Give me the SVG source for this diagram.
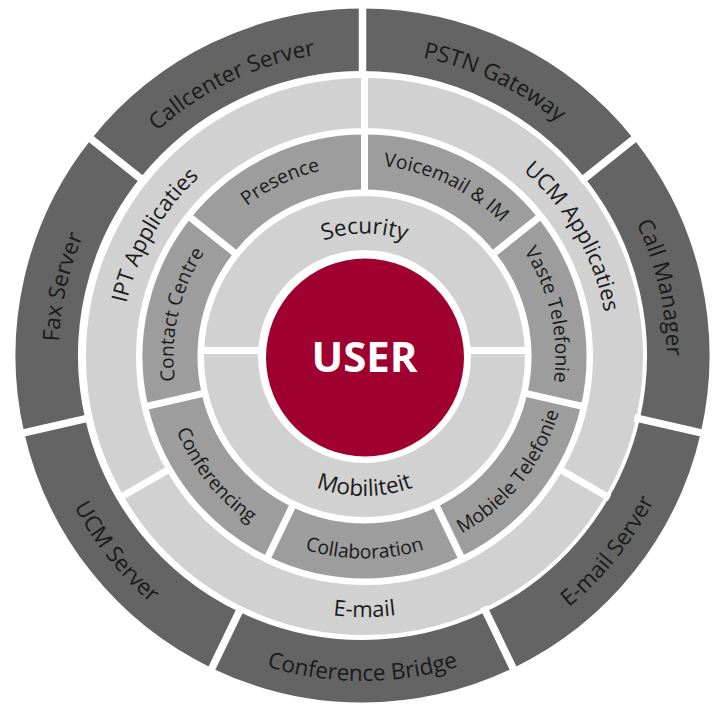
<svg xmlns="http://www.w3.org/2000/svg" xmlns:xlink="http://www.w3.org/1999/xlink" width="717" height="704" viewBox="0 0 717 704">
  <style>
    .o  { fill: none; stroke: #646464; stroke-width: 62.5; }
    .r2 { fill: none; stroke: #d0d1d0; stroke-width: 50; }
    .r3 { fill: none; stroke: #9d9d9d; stroke-width: 55; }
    .r4 { fill: none; stroke: #d0d1d0; stroke-width: 54; }
    .lbl { font-family: "Open Sans", "Noto Sans", "DejaVu Sans", sans-serif; fill: #1a1a1a; text-anchor: middle; }
    .f-o  { font-size: 22.5px; }
    .f-r2 { font-size: 22px; }
    .f-r3 { font-size: 19.3px; }
    .f-r4 { font-size: 22.5px; }
    .div line { stroke: #ffffff; stroke-width: 7; }
    .div .wide { stroke-width: 7.5; }
  </style>
  <defs>
    <!-- ring segments, centred on the top of the circle, drawn as thick arcs -->
    <path id="seg-o"  d="M -137.00 -284.48 A 315.75 315.75 0 0 1 137.00 -284.48"/>
    <path id="seg-r2" d="M -219.54 -126.75 A 253.5 253.5 0 0 1 219.54 -126.75"/>
    <path id="seg-r3" d="M -84.39 -175.24 A 194.5 194.5 0 0 1 84.39 -175.24"/>
    <path id="seg-r4" d="M -133.5 0 A 133.5 133.5 0 0 1 133.5 0"/>
    <!-- label baselines: cw = tops outward, ccw = tops inward -->
    <path id="o-cw"   d="M -299.38 -52.79 A 304 304 0 0 1 299.38 -52.79"/>
    <path id="o-ccw"  d="M 320.55 -56.52 A 325.5 325.5 0 0 0 -320.55 -56.52"/>
    <path id="r2-cw"  d="M -240.29 -42.37 A 244 244 0 0 1 240.29 -42.37"/>
    <path id="r2-ccw" d="M 256.54 -45.24 A 260.5 260.5 0 0 0 -256.54 -45.24"/>
    <path id="r3-cw"  d="M -188.10 -33.17 A 191 191 0 0 1 188.10 -33.17"/>
    <path id="r3-ccw" d="M 198.93 -35.08 A 202 202 0 0 0 -198.93 -35.08"/>
    <path id="r4-cw"  d="M -121.13 -21.36 A 123 123 0 0 1 121.13 -21.36"/>
    <path id="r4-ccw" d="M 137.38 -24.22 A 139.5 139.5 0 0 0 -137.38 -24.22"/>
  </defs>

  <rect width="717" height="704" fill="#ffffff"/>

  <!-- outer ring: servers -->
  <g id="pstn-gateway" transform="translate(362.5 355.5) rotate(25.714)">
    <use href="#seg-o" class="o"/>
    <text class="lbl f-o"><textPath href="#o-cw" startOffset="50%">PSTN Gateway</textPath></text>
  </g>
  <g id="call-manager" transform="translate(362.5 355.5) rotate(77.143)">
    <use href="#seg-o" class="o"/>
    <text class="lbl f-o"><textPath href="#o-cw" startOffset="50%">Call Manager</textPath></text>
  </g>
  <g id="email-server" transform="translate(362.5 355.5) rotate(128.571)">
    <use href="#seg-o" class="o"/>
    <text class="lbl f-o"><textPath href="#o-ccw" startOffset="50%">E-mail Server</textPath></text>
  </g>
  <g id="conference-bridge" transform="translate(362.5 355.5) rotate(180)">
    <use href="#seg-o" class="o"/>
    <text class="lbl f-o"><textPath href="#o-ccw" startOffset="50%">Conference Bridge</textPath></text>
  </g>
  <g id="ucm-server" transform="translate(362.5 355.5) rotate(231.429)">
    <use href="#seg-o" class="o"/>
    <text class="lbl f-o"><textPath href="#o-ccw" startOffset="50%">UCM Server</textPath></text>
  </g>
  <g id="fax-server" transform="translate(362.5 355.5) rotate(282.857)">
    <use href="#seg-o" class="o"/>
    <text class="lbl f-o"><textPath href="#o-cw" startOffset="50%">Fax Server</textPath></text>
  </g>
  <g id="callcenter-server" transform="translate(362.5 355.5) rotate(334.286)">
    <use href="#seg-o" class="o"/>
    <text class="lbl f-o"><textPath href="#o-cw" startOffset="50%">Callcenter Server</textPath></text>
  </g>

  <!-- second ring: application groups -->
  <g id="ucm-applicaties" transform="translate(364.5 356.5) rotate(60)">
    <use href="#seg-r2" class="r2"/>
    <text class="lbl f-r2"><textPath href="#r2-cw" startOffset="50%">UCM Applicaties</textPath></text>
  </g>
  <g id="email" transform="translate(364.5 356.5) rotate(180)">
    <use href="#seg-r2" class="r2"/>
    <text class="lbl f-r2"><textPath href="#r2-ccw" startOffset="50%">E-mail</textPath></text>
  </g>
  <g id="ipt-applicaties" transform="translate(364.5 356.5) rotate(300)">
    <use href="#seg-r2" class="r2"/>
    <text class="lbl f-r2"><textPath href="#r2-cw" startOffset="50%">IPT Applicaties</textPath></text>
  </g>

  <!-- third ring: services -->
  <g id="voicemail-im" transform="translate(364.5 356.5) rotate(25.714)">
    <use href="#seg-r3" class="r3"/>
    <text class="lbl f-r3"><textPath href="#r3-cw" startOffset="50%">Voicemail &amp; IM</textPath></text>
  </g>
  <g id="vaste-telefonie" transform="translate(364.5 356.5) rotate(77.143)">
    <use href="#seg-r3" class="r3"/>
    <text class="lbl f-r3"><textPath href="#r3-cw" startOffset="50%">Vaste Telefonie</textPath></text>
  </g>
  <g id="mobiele-telefonie" transform="translate(364.5 356.5) rotate(128.571)">
    <use href="#seg-r3" class="r3"/>
    <text class="lbl f-r3"><textPath href="#r3-ccw" startOffset="50%">Mobiele Telefonie</textPath></text>
  </g>
  <g id="collaboration" transform="translate(364.5 356.5) rotate(180)">
    <use href="#seg-r3" class="r3"/>
    <text class="lbl f-r3"><textPath href="#r3-ccw" startOffset="50%">Collaboration</textPath></text>
  </g>
  <g id="conferencing" transform="translate(364.5 356.5) rotate(231.429)">
    <use href="#seg-r3" class="r3"/>
    <text class="lbl f-r3"><textPath href="#r3-ccw" startOffset="50%">Conferencing</textPath></text>
  </g>
  <g id="contact-centre" transform="translate(364.5 356.5) rotate(282.857)">
    <use href="#seg-r3" class="r3"/>
    <text class="lbl f-r3"><textPath href="#r3-cw" startOffset="50%">Contact Centre</textPath></text>
  </g>
  <g id="presence" transform="translate(364.5 356.5) rotate(334.286)">
    <use href="#seg-r3" class="r3"/>
    <text class="lbl f-r3"><textPath href="#r3-cw" startOffset="50%">Presence</textPath></text>
  </g>

  <!-- inner ring -->
  <g id="security" transform="translate(364.5 356.5)">
    <use href="#seg-r4" class="r4"/>
    <text class="lbl f-r4"><textPath href="#r4-cw" startOffset="50%">Security</textPath></text>
  </g>
  <g id="mobiliteit" transform="translate(364.5 356.5) rotate(180)">
    <use href="#seg-r4" class="r4"/>
    <text class="lbl f-r4"><textPath href="#r4-ccw" startOffset="50%">Mobiliteit</textPath></text>
  </g>

  <!-- white separators between segments -->
  <g id="dividers" class="div">
    <g transform="translate(362.5 355.5)">
      <line class="wide" x1="0" y1="-279" x2="0" y2="-352" transform="rotate(0)"/>
      <line class="wide" x1="0" y1="-279" x2="0" y2="-352" transform="rotate(51.429)"/>
      <line class="wide" x1="0" y1="-279" x2="0" y2="-352" transform="rotate(102.857)"/>
      <line class="wide" x1="0" y1="-279" x2="0" y2="-352" transform="rotate(154.286)"/>
      <line class="wide" x1="0" y1="-279" x2="0" y2="-352" transform="rotate(205.714)"/>
      <line class="wide" x1="0" y1="-279" x2="0" y2="-352" transform="rotate(257.143)"/>
      <line class="wide" x1="0" y1="-279" x2="0" y2="-352" transform="rotate(308.571)"/>
    </g>
    <g transform="translate(364.5 356.5)">
      <line x1="0" y1="-224" x2="0" y2="-283" transform="rotate(0)"/>
      <line x1="0" y1="-224" x2="0" y2="-283" transform="rotate(120)"/>
      <line x1="0" y1="-224" x2="0" y2="-283" transform="rotate(240)"/>
      <line x1="0" y1="-162" x2="0" y2="-226" transform="rotate(0)"/>
      <line x1="0" y1="-162" x2="0" y2="-226" transform="rotate(51.429)"/>
      <line x1="0" y1="-162" x2="0" y2="-226" transform="rotate(102.857)"/>
      <line x1="0" y1="-162" x2="0" y2="-226" transform="rotate(154.286)"/>
      <line x1="0" y1="-162" x2="0" y2="-226" transform="rotate(205.714)"/>
      <line x1="0" y1="-162" x2="0" y2="-226" transform="rotate(257.143)"/>
      <line x1="0" y1="-162" x2="0" y2="-226" transform="rotate(308.571)"/>
      <line x1="-166" y1="-6" x2="-100" y2="-6"/>
      <line x1="100" y1="-6" x2="166" y2="-6"/>
    </g>
  </g>

  <!-- centre -->
  <g id="user">
    <circle cx="365" cy="357.5" r="99" fill="#a00030"/>
    <text x="364.5" y="371.5" font-family="'Open Sans', 'Noto Sans', 'DejaVu Sans', sans-serif" font-weight="bold" font-size="42" fill="#ffffff" text-anchor="middle">USER</text>
  </g>
</svg>
